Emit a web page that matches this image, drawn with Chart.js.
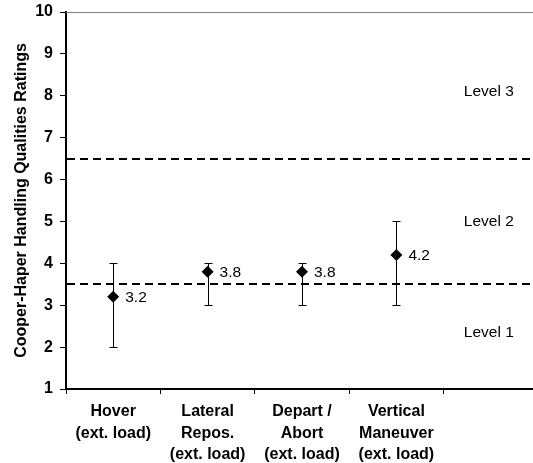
<!DOCTYPE html>
<html>
<head>
<meta charset="utf-8">
<title>Cooper-Harper ratings</title>
<script src="https://cdn.jsdelivr.net/npm/chart.js@4.4.0/dist/chart.umd.min.js"></script>
<style>
    html, body { margin: 0; padding: 0; background: #fff; overflow: hidden; }
    #wrap { position: relative; width: 545px; height: 463px; }
</style>
</head>
<body>
<div id="wrap"><canvas id="hqChart"></canvas></div>
<script>
// Tarefas avaliadas (o último slot fica vazio, só para os rótulos de nível)
const tasks = [
    ['Hover', '(ext. load)'],
    ['Lateral', 'Repos.', '(ext. load)'],
    ['Depart /', 'Abort', '(ext. load)'],
    ['Vertical', 'Maneuver', '(ext. load)'],
    ''
];
const meanRatings = [3.2, 3.8, 3.8, 4.2, null];
const minRatings = [2, 3, 3, 3, null];
const maxRatings = [4, 4, 4, 5, null];
const yTicks = [1, 2, 3, 4, 5, 6, 7, 8, 9, 10];

// Fronteiras entre níveis e posição dos textos
const levelBounds = [3.5, 6.5];
const levelNames = ['Level 1', 'Level 2', 'Level 3'];
const levelTextY = [2.35, 5.0, 8.1];
const levelTextSlot = 4;

const FONT = '"Liberation Sans", Arial, sans-serif';

// Desenha linhas tracejadas, barras de erro, rótulos de valor e de nível
const extrasPlugin = {
    id: 'extras',
    beforeDatasetsDraw(chart) {
        const ctx = chart.ctx;
        const area = chart.chartArea;
        const x = chart.scales.x;
        const y = chart.scales.y;

        ctx.save();
        // borda superior da área do gráfico
        ctx.strokeStyle = '#808080';
        ctx.lineWidth = 1;
        ctx.beginPath();
        ctx.moveTo(area.left, Math.round(area.top) + 0.5);
        ctx.lineTo(area.right, Math.round(area.top) + 0.5);
        ctx.stroke();

        // fronteiras dos níveis
        ctx.strokeStyle = '#000';
        ctx.lineWidth = 2;
        ctx.setLineDash([8, 5]);
        levelBounds.forEach(function(v) {
            const py = Math.round(y.getPixelForValue(v));
            ctx.beginPath();
            ctx.moveTo(area.left + 1, py);
            ctx.lineTo(area.right, py);
            ctx.stroke();
        });
        ctx.setLineDash([]);

        // barras de erro
        ctx.lineWidth = 1;
        meanRatings.forEach(function(v, i) {
            if (v === null) return;
            const px = Math.round(x.getPixelForValue(i)) + 0.5;
            const top = Math.round(y.getPixelForValue(maxRatings[i])) + 0.5;
            const bot = Math.round(y.getPixelForValue(minRatings[i])) + 0.5;
            ctx.beginPath();
            ctx.moveTo(px, top);
            ctx.lineTo(px, bot);
            ctx.moveTo(px - 4, top);
            ctx.lineTo(px + 4, top);
            ctx.moveTo(px - 4, bot);
            ctx.lineTo(px + 4, bot);
            ctx.stroke();
        });
        ctx.restore();
    },
    afterDatasetsDraw(chart) {
        const ctx = chart.ctx;
        const x = chart.scales.x;
        const y = chart.scales.y;

        ctx.save();
        ctx.fillStyle = '#000';
        ctx.font = '15.5px ' + FONT;
        ctx.textBaseline = 'middle';
        ctx.textAlign = 'left';
        meanRatings.forEach(function(v, i) {
            if (v === null) return;
            ctx.fillText(v.toFixed(1), x.getPixelForValue(i) + 12, y.getPixelForValue(v) + 1);
        });

        ctx.textAlign = 'center';
        levelNames.forEach(function(name, i) {
            ctx.fillText(name, x.getPixelForValue(levelTextSlot) - 2, y.getPixelForValue(levelTextY[i]));
        });
        ctx.restore();
    }
};

function initRatingsChart() {
    const ctx = document.getElementById('hqChart');
    if (!ctx) {
        console.error('Elemento hqChart não encontrado');
        return;
    }

    new Chart(ctx, {
        type: 'line',
        data: {
            labels: tasks,
            datasets: [{
                label: 'HQR',
                data: meanRatings,
                showLine: false,
                pointStyle: 'rectRot',
                pointRadius: 6,
                pointHoverRadius: 6,
                pointBackgroundColor: '#000',
                pointBorderColor: '#000',
                pointBorderWidth: 0
            }]
        },
        options: {
            responsive: true,
            maintainAspectRatio: false,
            animation: false,
            events: [],
            layout: {
                padding: { top: 12, right: 7, left: 0, bottom: 0 }
            },
            plugins: {
                legend: { display: false },
                tooltip: { enabled: false }
            },
            scales: {
                x: {
                    type: 'category',
                    offset: true,
                    grid: {
                        offset: true,
                        drawOnChartArea: false,
                        drawTicks: true,
                        tickLength: 5,
                        tickColor: '#000'
                    },
                    border: { color: '#000', width: 2 },
                    ticks: {
                        color: '#000',
                        maxRotation: 0,
                        autoSkip: false,
                        padding: 7,
                        font: { family: FONT, size: 16, weight: 'bold', lineHeight: 1.35 }
                    },
                    afterFit: function(scale) { scale.height = 74; }
                },
                y: {
                    min: 1,
                    max: 10,
                    afterBuildTicks: function(scale) {
                        scale.ticks = yTicks.map(function(v) { return { value: v }; });
                    },
                    grid: {
                        drawOnChartArea: false,
                        drawTicks: true,
                        tickLength: 6,
                        tickColor: '#000'
                    },
                    border: { color: '#000', width: 2 },
                    ticks: {
                        color: '#000',
                        padding: 7,
                        font: { family: FONT, size: 16, weight: 'bold' }
                    },
                    title: {
                        display: true,
                        text: 'Cooper-Haper Handling Qualities Ratings',
                        color: '#000',
                        padding: { top: 12, bottom: 4 },
                        font: { family: FONT, size: 16, weight: 'bold' }
                    },
                    afterFit: function(scale) {
                        scale.width = 66;
                        scale.paddingTop = 0;
                        scale.paddingBottom = 0;
                    }
                }
            }
        },
        plugins: [extrasPlugin]
    });
}

document.addEventListener('DOMContentLoaded', initRatingsChart);
</script>
</body>
</html>
